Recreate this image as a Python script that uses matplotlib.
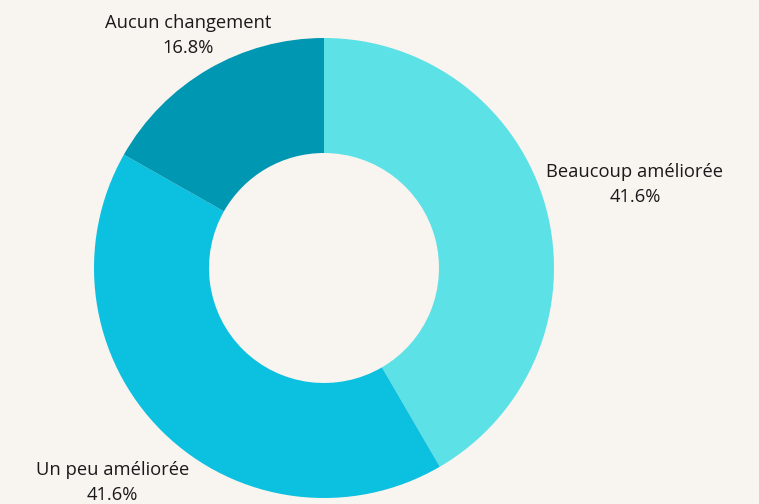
import matplotlib
matplotlib.use("Agg")
import matplotlib.pyplot as plt
import numpy as np

categories = ["Beaucoup améliorée", "Un peu améliorée", "Aucun changement"]
values = [41.6, 41.6, 16.8]
colors = ["#5ce1e6", "#0cc0df", "#0097b2"]
label_dist = [1.40, 1.31, 1.17]

plt.rcParams['font.family'] = ['Open Sans', 'DejaVu Sans']
bg = "#f8f4f0"
fig = plt.figure(figsize=(7.59, 5.04), dpi=100, facecolor=bg)
ax = fig.add_axes([0, 0, 1, 1])
ax.set_facecolor(bg)
ax.set_xlim(0, 759)
ax.set_ylim(0, 504)
ax.set_aspect('equal')
ax.axis('off')

cx, cy, R = 324, 236, 230
wedges, _ = ax.pie(values, colors=colors, startangle=90, counterclock=False,
                   center=(cx, cy), radius=R,
                   wedgeprops=dict(width=R * 0.5, edgecolor='none'))
ax.set_xlim(0, 759)
ax.set_ylim(0, 504)

total = sum(values)
for w, cat, v, d in zip(wedges, categories, values, label_dist):
    ang = np.deg2rad((w.theta1 + w.theta2) / 2)
    x = cx + R * d * np.cos(ang)
    y = cy + R * d * np.sin(ang)
    ax.text(x, y, f"{cat}\n{v / total * 100:.1f}%", ha='center', va='center',
            fontsize=13.2, color='#1a1a1a', linespacing=1.5)

fig.savefig("out.png", dpi=100, facecolor=bg)
